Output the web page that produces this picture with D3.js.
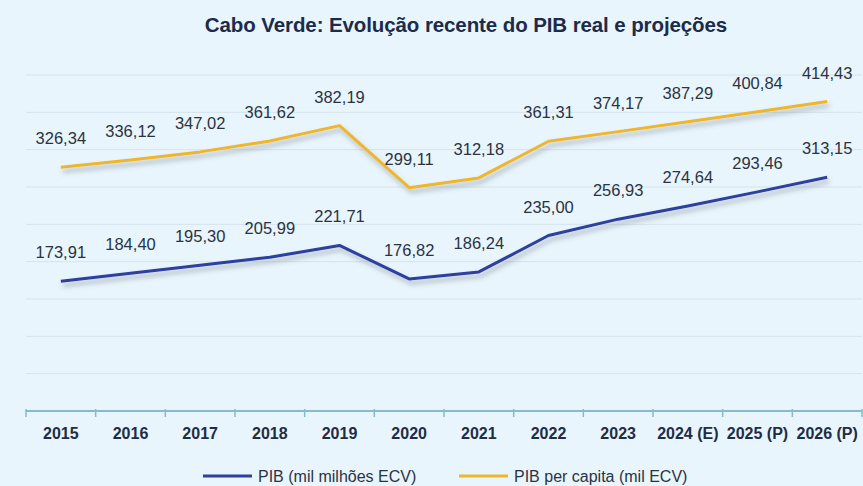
<!DOCTYPE html>
<html>
<head>
<meta charset="utf-8">
<script src="https://cdn.jsdelivr.net/npm/d3@7"></script>
<style>
  body { margin: 0; background: #e9f5fc; }
  svg { display: block; }
</style>
</head>
<body>
<div id="chart"></div>
<script>
var years = ['2015', '2016', '2017', '2018', '2019', '2020', '2021', '2022', '2023', '2024 (E)', '2025 (P)', '2026 (P)']
var pib = [173.91, 184.40, 195.30, 205.99, 221.71, 176.82, 186.24, 235.00, 256.93, 274.64, 293.46, 313.15]
var pibPerCapita = [326.34, 336.12, 347.02, 361.62, 382.19, 299.11, 312.18, 361.31, 374.17, 387.29, 400.84, 414.43]
var gridValues = [50, 100, 150, 200, 250, 300, 350, 400, 450]

var width = 863
var height = 486

var svg = d3.select('#chart')
  .append('svg')
  .attr('width', width)
  .attr('height', height)

svg.append('rect')
  .attr('width', width)
  .attr('height', height)
  .attr('fill', '#e9f5fc')

// soft shadow under the lines
var filter = svg.append('defs').append('filter')
  .attr('id', 'shadow')
  .attr('x', '-10%').attr('y', '-30%')
  .attr('width', '120%').attr('height', '160%')
filter.append('feDropShadow')
  .attr('dx', 2).attr('dy', 4)
  .attr('stdDeviation', 2.5)
  .attr('flood-color', '#5a6470')
  .attr('flood-opacity', 0.45)

var xPositionScale = d3.scaleBand().domain(years).range([26, 862]).padding(0)
var yPositionScale = d3.scaleLinear().domain([0, 450]).range([411, 75])

var xCenter = function(i) { return xPositionScale(years[i]) + xPositionScale.bandwidth() / 2 }

svg.append('text')
  .attr('x', 466)
  .attr('y', 32)
  .attr('text-anchor', 'middle')
  .attr('font-family', 'Liberation Sans, Arial, sans-serif')
  .attr('font-weight', 'bold')
  .attr('font-size', 20.5)
  .attr('letter-spacing', -0.1)
  .attr('fill', '#1c2b4a')
  .text('Cabo Verde: Evolução recente do PIB real e projeções')

// gridlines
svg.append('g')
  .selectAll('.grid')
  .data(gridValues)
  .enter().append('line')
  .attr('class', 'grid')
  .attr('x1', 26)
  .attr('x2', 862)
  .attr('y1', d => yPositionScale(d))
  .attr('y2', d => yPositionScale(d))
  .attr('stroke', '#d3e3ed')
  .attr('stroke-width', 1)

// x axis
var xAxis = d3.axisBottom(xPositionScale).tickSize(0).tickPadding(17)
var axisG = svg.append('g')
  .attr('class', 'axis axis-x')
  .attr('transform', 'translate(0,' + yPositionScale(0) + ')')
  .call(xAxis)
axisG.select('.domain').remove()
axisG.append('line')
  .attr('x1', 26).attr('x2', 862)
  .attr('stroke', '#86bcc9')
  .attr('stroke-width', 2)
axisG.selectAll('.edge')
  .data(years.concat(['end']))
  .enter().append('line')
  .attr('class', 'edge')
  .attr('x1', (d, i) => 26 + i * xPositionScale.bandwidth())
  .attr('x2', (d, i) => 26 + i * xPositionScale.bandwidth())
  .attr('y1', -2).attr('y2', 6)
  .attr('stroke', '#86bcc9')
  .attr('stroke-width', 1.5)
axisG.selectAll('.tick text')
  .attr('font-family', 'Liberation Sans, Arial, sans-serif')
  .attr('font-weight', 'bold')
  .attr('font-size', 16)
  .attr('fill', '#1f2c45')

var line = d3.line()
  .x((d, i) => xCenter(i))
  .y(d => yPositionScale(d))

var series = [
  { name: 'PIB (mil milhões ECV)', values: pib, color: '#2d3f9f' },
  { name: 'PIB per capita (mil ECV)', values: pibPerCapita, color: '#f0b62b' }
]

series.forEach(s => {
  svg.append('path')
    .datum(s.values)
    .attr('d', line)
    .attr('fill', 'none')
    .attr('stroke', s.color)
    .attr('stroke-width', 3)
    .attr('stroke-linejoin', 'round')
    .attr('filter', 'url(#shadow)')

  svg.append('g')
    .selectAll('.label')
    .data(s.values)
    .enter().append('text')
    .attr('class', 'label')
    .attr('x', (d, i) => xCenter(i))
    .attr('y', d => yPositionScale(d) - 23)
    .attr('text-anchor', 'middle')
    .attr('font-family', 'Liberation Sans, Arial, sans-serif')
    .attr('font-size', 16.5)
    .attr('fill', '#2a3342')
    .text(d => d3.format('.2f')(d).replace('.', ','))
})

// legend
var legendX = [203, 459]
var legend = svg.append('g')
  .selectAll('.legend')
  .data(series)
  .enter().append('g')
  .attr('class', 'legend')
  .attr('transform', (d, i) => 'translate(' + legendX[i] + ',476)')
legend.append('line')
  .attr('x1', 0).attr('x2', 49)
  .attr('stroke', d => d.color)
  .attr('stroke-width', 3)
legend.append('text')
  .attr('x', 55)
  .attr('y', 5.5)
  .attr('font-family', 'Liberation Sans, Arial, sans-serif')
  .attr('font-size', 16)
  .attr('fill', '#2a3342')
  .text(d => d.name)
</script>
</body>
</html>
